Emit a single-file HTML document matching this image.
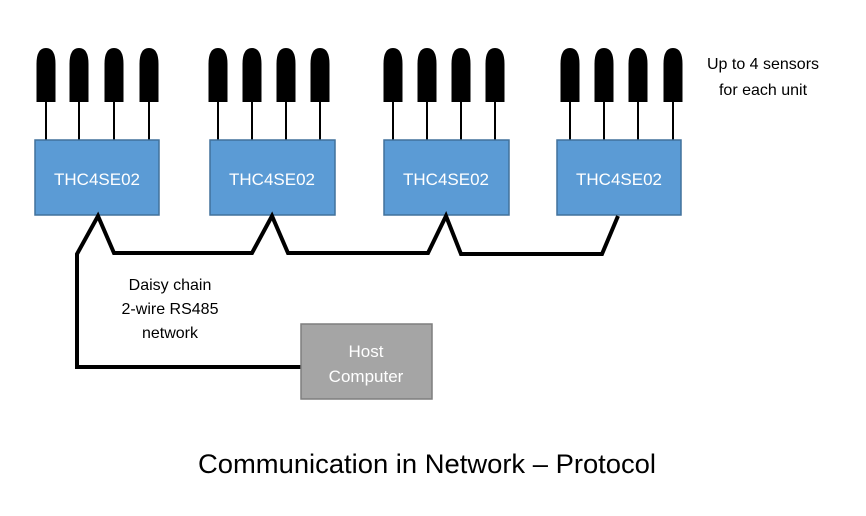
<!DOCTYPE html>
<html><head><meta charset="utf-8"><style>
html,body{margin:0;padding:0;background:#fff;}
svg{display:block}
text{font-family:"Liberation Sans",sans-serif;}
</style></head><body>
<svg width="866" height="516" viewBox="0 0 866 516" xmlns="http://www.w3.org/2000/svg">
<defs>
<g id="s"><path d="M-9.5,102 L-9.5,64 Q-9.5,48 0,48 Q9.5,48 9.5,64 L9.5,102 Z" fill="#000"/><line x1="0" y1="100" x2="0" y2="141" stroke="#000" stroke-width="2"/></g>
</defs>
<g>
<use href="#s" x="46"/><use href="#s" x="79"/><use href="#s" x="114"/><use href="#s" x="149"/>
<use href="#s" x="218"/><use href="#s" x="252"/><use href="#s" x="286"/><use href="#s" x="320"/>
<use href="#s" x="393"/><use href="#s" x="427"/><use href="#s" x="461"/><use href="#s" x="495"/>
<use href="#s" x="570"/><use href="#s" x="604"/><use href="#s" x="638"/><use href="#s" x="673"/>
</g>
<g fill="#5b9bd5" stroke="#41719c" stroke-width="1.5">
<rect x="35" y="140" width="124" height="75"/>
<rect x="210" y="140" width="125" height="75"/>
<rect x="384" y="140" width="125" height="75"/>
<rect x="557" y="140" width="124" height="75"/>
</g>
<g fill="#fff" font-size="17" text-anchor="middle">
<text x="97" y="185">THC4SE02</text>
<text x="272" y="185">THC4SE02</text>
<text x="446" y="185">THC4SE02</text>
<text x="619" y="185">THC4SE02</text>
</g>
<g fill="none" stroke="#000" stroke-width="4" stroke-linejoin="miter">
<polyline points="302,367 77,367 77,254 98,216 114,253 252,253 272,216 288,253 428,253 446,216 461,254 602,254 618,216"/>
</g>
<rect x="301" y="324" width="131" height="75" fill="#a5a5a5" stroke="#7f7f7f" stroke-width="1.5"/>
<g fill="#fff" font-size="17" text-anchor="middle">
<text x="366" y="357">Host</text>
<text x="366" y="382">Computer</text>
</g>
<g fill="#000" font-size="16" text-anchor="middle">
<text x="170" y="290">Daisy chain</text>
<text x="170" y="314">2-wire RS485</text>
<text x="170" y="338">network</text>
<text x="763" y="69">Up to 4 sensors</text>
<text x="763" y="95">for each unit</text>
</g>
<text x="427" y="473" font-size="27" text-anchor="middle" fill="#000" textLength="458" lengthAdjust="spacingAndGlyphs">Communication in Network – Protocol</text>
</svg>
</body></html>
